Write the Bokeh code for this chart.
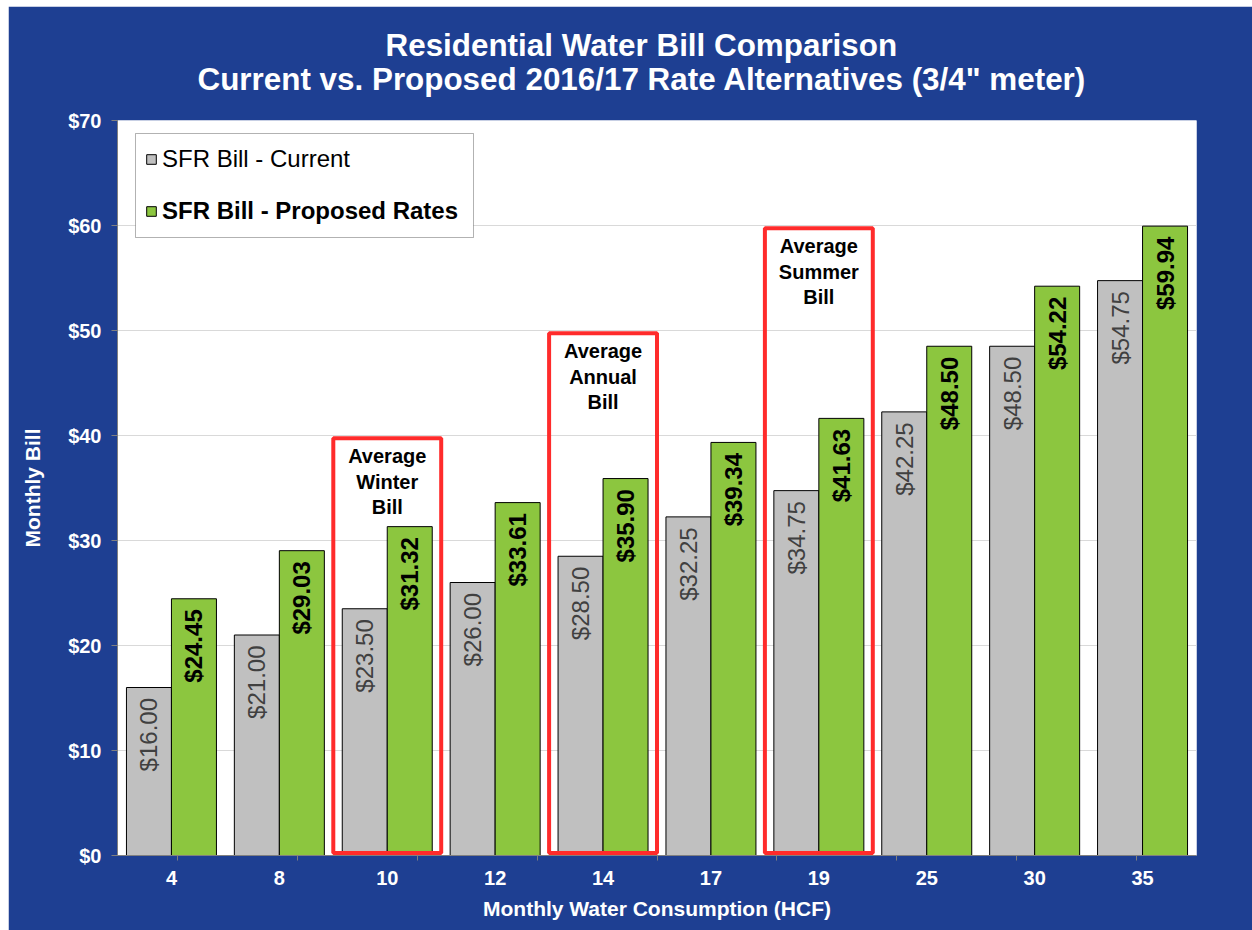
import math
from bokeh.plotting import figure
from bokeh.models import (ColumnDataSource, FactorRange, Range1d, CategoricalAxis, FixedTicker,
                          Legend, LegendItem, BoxAnnotation, Title)
from bokeh.transform import dodge
from bokeh.core.properties import value
from bokeh.embed import file_html
from bokeh.resources import INLINE

# ---- data ----
consumption = ["4", "8", "10", "12", "14", "17", "19", "25", "30", "35"]
current = [16.00, 21.00, 23.50, 26.00, 28.50, 32.25, 34.75, 42.25, 48.50, 54.75]
proposed = [24.45, 29.03, 31.32, 33.61, 35.90, 39.34, 41.63, 48.50, 54.22, 59.94]
y_ticks = [0, 10, 20, 30, 40, 50, 60, 70]
highlight_cats = ["10", "14", "19"]
highlight_tops = [40, 50, 60]
highlight_texts = ["Average\nWinter\nBill", "Average\nAnnual\nBill", "Average\nSummer\nBill"]
series_names = ["SFR Bill - Current", "SFR Bill - Proposed Rates"]
title_lines = ["Residential Water Bill Comparison",
               "Current vs. Proposed 2016/17 Rate Alternatives (3/4\" meter)"]
x_title = "Monthly Water Consumption (HCF)"
y_title = "Monthly Bill"

BLUE = "#1E3F92"
GRAY = "#C0C0C0"
GREEN = "#8CC63F"
RED = "#FF2B2B"
AXIS_GRAY = "#808080"
FONT = "Liberation Sans"

p = figure(x_range=FactorRange(factors=consumption, range_padding=0),
           y_range=Range1d(0, 70),
           width=1244, height=924, margin=(6, 0, 0, 8),
           output_backend="svg", toolbar_location=None, title=None,
           x_axis_location=None,
           min_border_left=109, min_border_right=56, min_border_top=114, min_border_bottom=75,
           background_fill_color="white", border_fill_color=BLUE, outline_line_color=None)

src = ColumnDataSource(dict(
    cat=consumption, current=current, proposed=proposed,
    cur_lbl=[f"${v:.2f}" for v in current],
    prop_lbl=[f"${v:.2f}" for v in proposed],
))

bw = 0.417
r_cur = p.vbar(x=dodge("cat", -bw / 2, range=p.x_range), top="current", width=bw, bottom=0,
               fill_color=GRAY, line_color="black", line_width=1, source=src)
r_prop = p.vbar(x=dodge("cat", bw / 2, range=p.x_range), top="proposed", width=bw, bottom=0,
                fill_color=GREEN, line_color="black", line_width=1, source=src)

p.text(x=dodge("cat", -bw / 2, range=p.x_range), y=dodge("current", -1.0, range=p.y_range),
       text="cur_lbl", angle=math.pi / 2, text_align="right", text_baseline="middle",
       text_font=value(FONT), text_font_size="24px", text_color="#404040", source=src)
p.text(x=dodge("cat", bw / 2, range=p.x_range), y=dodge("proposed", -1.0, range=p.y_range),
       text="prop_lbl", angle=math.pi / 2, text_align="right", text_baseline="middle",
       text_font=value(FONT), text_font_size="24px", text_font_style="bold",
       text_color="black", source=src)

# highlight boxes
hsrc = ColumnDataSource(dict(cat=highlight_cats, top=highlight_tops, txt=highlight_texts))
p.quad(left=dodge("cat", -0.5, range=p.x_range), right=dodge("cat", 0.5, range=p.x_range),
       top=dodge("top", -0.25, range=p.y_range), bottom=0.25,
       fill_alpha=0, line_color=RED, line_width=4, source=hsrc)
p.text(x="cat", y=dodge("top", -0.9, range=p.y_range), text="txt",
       text_align="center", text_baseline="top", text_line_height=1.17,
       text_font=value(FONT), text_font_size="20px", text_font_style="bold",
       text_color="black", source=hsrc)

# y axis
yax = p.yaxis[0]
yax.ticker = FixedTicker(ticks=y_ticks)
yax.major_label_overrides = {t: f"${t}" for t in y_ticks}
yax.major_tick_in = 0
yax.major_tick_out = 6
yax.minor_tick_line_color = None
yax.major_tick_line_color = AXIS_GRAY
yax.axis_line_color = AXIS_GRAY
yax.major_label_text_color = "white"
yax.major_label_text_font = FONT
yax.major_label_text_font_style = "bold"
yax.major_label_text_font_size = "20px"
yax.major_label_standoff = 10
yax.axis_label = y_title
yax.axis_label_text_color = "white"
yax.axis_label_text_font = FONT
yax.axis_label_text_font_style = "bold"
yax.axis_label_text_font_size = "21px"
yax.axis_label_standoff = 21

p.ygrid.ticker = FixedTicker(ticks=y_ticks)
p.ygrid.grid_line_color = "#D9D9D9"
p.xgrid.visible = False

# x axis: boundary ticks via a second factor range whose factors sit on the category edges
n = len(consumption)
bounds = [f"edge{k}" for k in range(n + 1)]
p.extra_x_ranges = {"bounds": FactorRange(factors=bounds, range_padding=-1,
                                          range_padding_units="absolute")}
tick_ax = CategoricalAxis(x_range_name="bounds")
tick_ax.major_tick_in = 0
tick_ax.major_tick_out = 5
tick_ax.major_tick_line_color = AXIS_GRAY
tick_ax.axis_line_color = AXIS_GRAY
tick_ax.major_label_text_font_size = "0px"
tick_ax.major_label_text_alpha = 0
tick_ax.major_label_standoff = 0
p.add_layout(tick_ax, "below")

lbl_ax = CategoricalAxis()
lbl_ax.axis_line_color = None
lbl_ax.major_tick_line_color = None
lbl_ax.major_tick_in = 0
lbl_ax.major_tick_out = 0
lbl_ax.major_label_text_color = "white"
lbl_ax.major_label_text_font = FONT
lbl_ax.major_label_text_font_style = "bold"
lbl_ax.major_label_text_font_size = "20px"
lbl_ax.major_label_standoff = 10
lbl_ax.axis_label = x_title
lbl_ax.axis_label_text_color = "white"
lbl_ax.axis_label_text_font = FONT
lbl_ax.axis_label_text_font_style = "bold"
lbl_ax.axis_label_text_font_size = "21px"
lbl_ax.axis_label_standoff = 9
p.add_layout(lbl_ax, "below")

# titles (second line nearest the plot)
p.add_layout(Title(text=title_lines[1], align="left", offset=80, text_color="white",
                   text_font=FONT, text_font_style="bold", text_font_size="31.4px",
                   standoff=48), "above")
p.add_layout(Title(text=title_lines[0], align="left", offset=268, text_color="white",
                   text_font=FONT, text_font_style="bold", text_font_size="31.4px",
                   standoff=-54), "above")

# legend: box + two legends (one normal, one bold)
box = BoxAnnotation(left=18, right=356, bottom=618, top=722,
                    left_units="screen", right_units="screen",
                    top_units="screen", bottom_units="screen",
                    fill_color="white", fill_alpha=1, line_color="black", line_width=1)
p.add_layout(box)

for item, r, style, loc in [(series_names[0], r_cur, "normal", (28, 681)),
                            (series_names[1], r_prop, "bold", (28, 629))]:
    lg = Legend(items=[LegendItem(label=value(item), renderers=[r])],
                location=loc, margin=0, padding=0, spacing=0,
                glyph_width=12, glyph_height=12, label_height=30, label_standoff=5,
                label_text_font=FONT, label_text_font_size="24px",
                label_text_font_style=style, label_text_color="black",
                border_line_color=None, background_fill_alpha=0)
    p.add_layout(lg, "center")

open("out.html", "w").write(file_html(p, INLINE))
